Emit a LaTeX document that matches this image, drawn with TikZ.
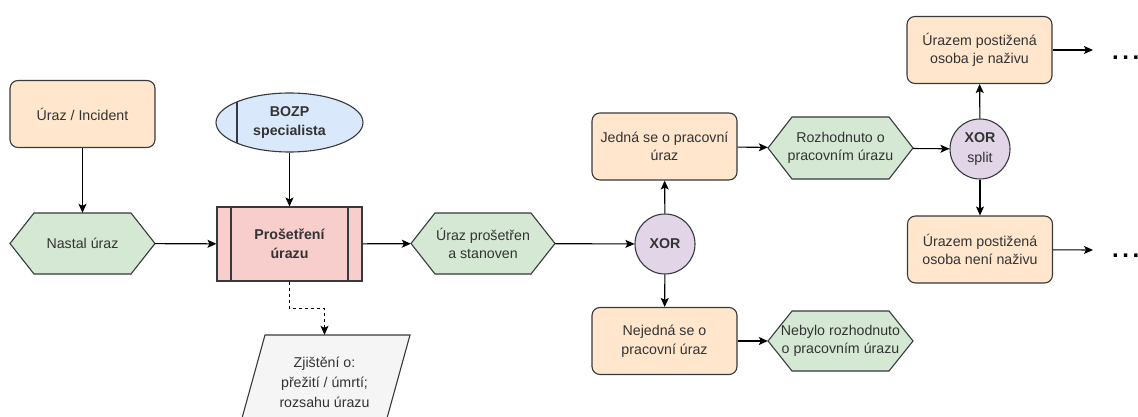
\documentclass[tikz,border=0pt]{standalone}
\usepackage{fontspec}
\setmainfont{Liberation Sans}
\usetikzlibrary{shapes.geometric,arrows.meta,calc}

\definecolor{txt}{HTML}{333333}
\definecolor{edge}{HTML}{36393D}
\definecolor{orangef}{HTML}{FFE6CC}
\definecolor{greenf}{HTML}{D5E8D4}
\definecolor{bluef}{HTML}{DAE8FC}
\definecolor{redf}{HTML}{F8CECC}
\definecolor{purplef}{HTML}{E1D5E7}
\definecolor{grayf}{HTML}{F5F5F5}

% hexagonal event: name, centre x, centre y, width, height, text
\newcommand\hexnode[6]{%
  \filldraw[hexshape] ({#2-#4/2},#3) -- ({#2-#4/2+24},{#3-#5/2})
    -- ({#2+#4/2-24},{#3-#5/2}) -- ({#2+#4/2},#3)
    -- ({#2+#4/2-24},{#3+#5/2}) -- ({#2-#4/2+24},{#3+#5/2}) -- cycle;
  \node[minimum width=#4pt, minimum height=#5pt] (#1) at (#2,#3) {#6};
}

\begin{document}
\begin{tikzpicture}[x=1pt,y=-1pt,
  every node/.style={font=\fontsize{14.2}{18.5}\selectfont, text=txt, align=center, inner sep=0pt},
  bold/.style={font=\fontsize{14.2}{18.5}\selectfont\bfseries},
  box/.style={draw=edge, line width=1.1pt, rounded corners=8pt, fill=orangef,
    minimum width=145pt, minimum height=67pt},
  hexshape/.style={draw=edge, line width=1.1pt, fill=greenf, line join=miter},
  gate/.style={circle, draw=edge, line width=1.1pt, fill=purplef, minimum size=60pt},
  flow/.style={line width=1.1pt, draw=black, -{Stealth[length=9pt,width=8pt,inset=2pt]}},
  more/.style={font=\fontsize{24}{24}\selectfont\bfseries, text=black, anchor=base west},
]
\useasboundingbox (0,0) rectangle (1138,417);
\clip (0,0) rectangle (1138,417);

% --- start of the process
\node[box] (uraz) at (82.5,114) {Úraz / Incident};
\hexnode{nastal}{82.5}{243.5}{145}{61}{Nastal úraz}

\node[ellipse, draw=edge, line width=1.1pt, fill=bluef, bold,
  minimum width=147pt, minimum height=59pt,
  path picture={\draw[edge, line width=1.1pt]
    ([xshift=21pt]path picture bounding box.north west) --
    ([xshift=21pt]path picture bounding box.south west);}]
  (bozp) at (289.5,122.5) {BOZP\\specialista};

\node[rectangle, draw=edge, line width=1.1pt, fill=redf, bold,
  minimum width=145pt, minimum height=74pt,
  path picture={
    \draw[edge, line width=1.1pt]
      ([xshift=14pt]path picture bounding box.north west) --
      ([xshift=14pt]path picture bounding box.south west);
    \draw[edge, line width=1.1pt]
      ([xshift=-14pt]path picture bounding box.north east) --
      ([xshift=-14pt]path picture bounding box.south east);}]
  (proset) at (289.5,244) {Prošetření\\úrazu};

% --- data output of the investigation
\filldraw[draw=edge, line width=1.1pt, fill=grayf]
  (265,335) -- (410,335) -- (384,429) -- (239,429) -- cycle;
\node[minimum width=120pt, minimum height=94pt,
  font=\fontsize{14.2}{20}\selectfont] (zjist) at (324.5,382)
  {Zjištění o:\\přežití / úmrtí;\\rozsahu úrazu};

\hexnode{ustan}{483}{243.5}{144}{61}{Úraz prošetřen\\a stanoven}
\node[gate, bold] (xor1) at (665,244) {XOR};

% --- branch: work injury or not
\node[box] (jedna) at (664.5,146.5) {Jedná se o pracovní\\úraz};
\node[box] (nejedna) at (664.5,341) {Nejedná se o\\pracovní úraz};
\hexnode{nebylo}{840.5}{341}{145}{60}{Nebylo rozhodnuto\\o pracovním úrazu}
\hexnode{rozh}{840.5}{148}{145}{62}{Rozhodnuto o\\pracovním úrazu}
\node[gate, font=\fontsize{14.2}{20}\selectfont] (xor2) at (980,149) {\textbf{XOR}\\split};

% --- branch: person alive or not
\node[box] (ziv) at (979.5,50) {Úrazem postižená\\osoba je naživu};
\node[box] (neziv) at (980,249.5) {Úrazem postižená\\osoba není naživu};
\coordinate (e1) at (1093,50);
\coordinate (e2) at (1093,250);
\node[more] (more1) at (1112,59.5) {.\kern3.5pt.\kern3.5pt.};
\node[more] (more2) at (1112,257) {.\kern3.5pt.\kern3.5pt.};

% --- connectors
\draw[flow] (uraz) -- (nastal);
\draw[flow] (nastal) -- (proset);
\draw[flow] (bozp) -- (proset);
\draw[flow, dash pattern=on 3pt off 3pt] (proset.south) -- ++(0,27) -| (zjist.north);
\draw[flow] (proset) -- (ustan);
\draw[flow] (ustan) -- (xor1);
\draw[flow] (xor1) -- (jedna);
\draw[flow] (xor1) -- (nejedna);
\draw[flow] (jedna) -- (rozh);
\draw[flow] (nejedna) -- (nebylo);
\draw[flow] (rozh) -- (xor2);
\draw[flow] (xor2) -- (ziv);
\draw[flow] (xor2) -- (neziv);
\draw[flow] (ziv) -- (e1);
\draw[flow] (neziv) -- (e2);
\end{tikzpicture}
\end{document}
